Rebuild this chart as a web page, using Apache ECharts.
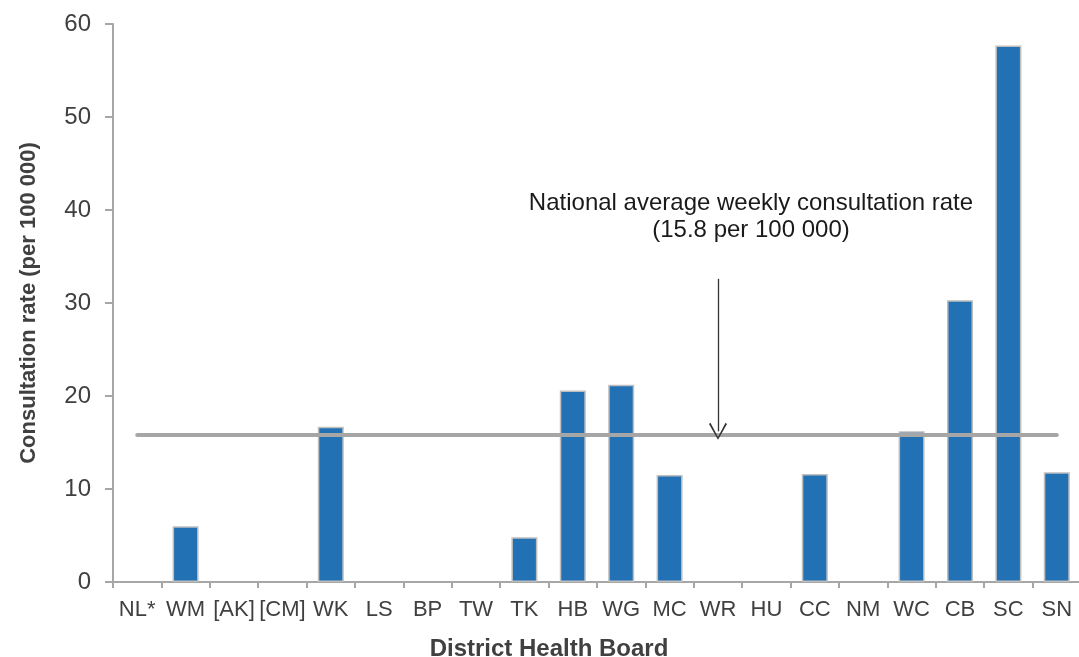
<!DOCTYPE html>
<html>
<head>
<meta charset="utf-8">
<script src="https://cdn.jsdelivr.net/npm/echarts@6/dist/echarts.min.js"></script>
<style>
	html, body { margin: 0; padding: 0; background: #fff; }
	#main { width: 1079px; height: 657px; }
</style>
</head>
<body>
<div id="main"></div>
<script type="text/javascript">
	// 区域 (District Health Boards)
	var boards = ['NL*', 'WM', '[AK]', '[CM]', 'WK', 'LS', 'BP', 'TW', 'TK', 'HB',
		'WG', 'MC', 'WR', 'HU', 'CC', 'NM', 'WC', 'CB', 'SC', 'SN'];
	// 每周就诊率 (per 100 000), null = no bar
	var rates = [null, 6.0, null, null, 16.7, null, null, null, 4.8, 20.6,
		21.2, 11.5, null, null, 11.6, null, 16.2, 30.3, 57.7, 11.8];
	var nationalAvg = 15.8;
	var yTicks = [0, 10, 20, 30, 40, 50, 60];
	// arrow runs from this value down to just above the average line
	var arrowBoard = 'WR';
	var arrowFrom = 32.6;
	var arrowTo = 16.2;

	var font = 'Liberation Sans, Arial, sans-serif';
	var axisGrey = '#a6a6a6';

	var myChart = echarts.init(document.getElementById('main'));

	var option = {
		animation: false,
		grid: { left: 113, top: 24, width: 968, bottom: 75, outerBoundsMode: 'none' },
		xAxis: {
			type: 'category',
			data: boards,
			name: 'District Health Board',
			nameLocation: 'middle',
			nameGap: 55,
			nameTextStyle: { fontFamily: font, fontSize: 24, fontWeight: 'bold', color: '#404040', padding: [0, 96, 0, 0] },
			axisLine: { lineStyle: { color: axisGrey, width: 2 } },
			axisTick: { show: true, length: 6, lineStyle: { color: axisGrey, width: 2 } },
			axisLabel: { fontFamily: font, fontSize: 22, color: '#404040', margin: 17, interval: 0 }
		},
		yAxis: {
			type: 'value',
			min: yTicks[0],
			max: yTicks[yTicks.length - 1],
			interval: 10,
			name: 'Consultation rate (per 100 000)',
			nameLocation: 'middle',
			nameGap: 73,
			nameTextStyle: { fontFamily: font, fontSize: 22, fontWeight: 'bold', color: '#404040' },
			axisLine: { show: true, lineStyle: { color: axisGrey, width: 2 } },
			axisTick: { show: true, length: 8, lineStyle: { color: axisGrey, width: 2 } },
			axisLabel: { fontFamily: font, fontSize: 24, color: '#404040', margin: 22 },
			splitLine: { show: false }
		},
		graphic: [{
			type: 'text',
			x: 751,
			y: 190,
			style: {
				text: 'National average weekly consultation rate\n(15.8 per 100 000)',
				font: '24px ' + font,
				fill: '#1a1a1a',
				textAlign: 'center',
				textVerticalAlign: 'top',
				lineHeight: 27
			}
		}],
		series: [{
			name: 'Consultation rate',
			type: 'bar',
			data: rates,
			barWidth: 26,
			itemStyle: { color: '#2271b4', borderColor: '#bfbfbf', borderWidth: 1.5 },
			markLine: {
				silent: true,
				label: { show: false },
				emphasis: { disabled: true },
				data: [
					// 全国平均线
					[{ coord: [0, nationalAvg], symbol: 'none', lineStyle: { color: axisGrey, width: 4, type: 'solid', cap: 'round' } },
					 { coord: [boards.length - 1, nationalAvg], symbol: 'none' }],
					// 箭头
					[{ coord: [arrowBoard, arrowFrom], symbol: 'none', lineStyle: { color: '#333333', width: 1.3, type: 'solid' } },
					 { coord: [arrowBoard, arrowTo], symbol: 'path://M5,0 L10,9.2 L9.2,9.8 L5,1.6 L0.8,9.8 L0,9.2 Z', symbolSize: [18, 17] }]
				]
			}
		}]
	};

	myChart.setOption(option);
</script>
</body>
</html>
